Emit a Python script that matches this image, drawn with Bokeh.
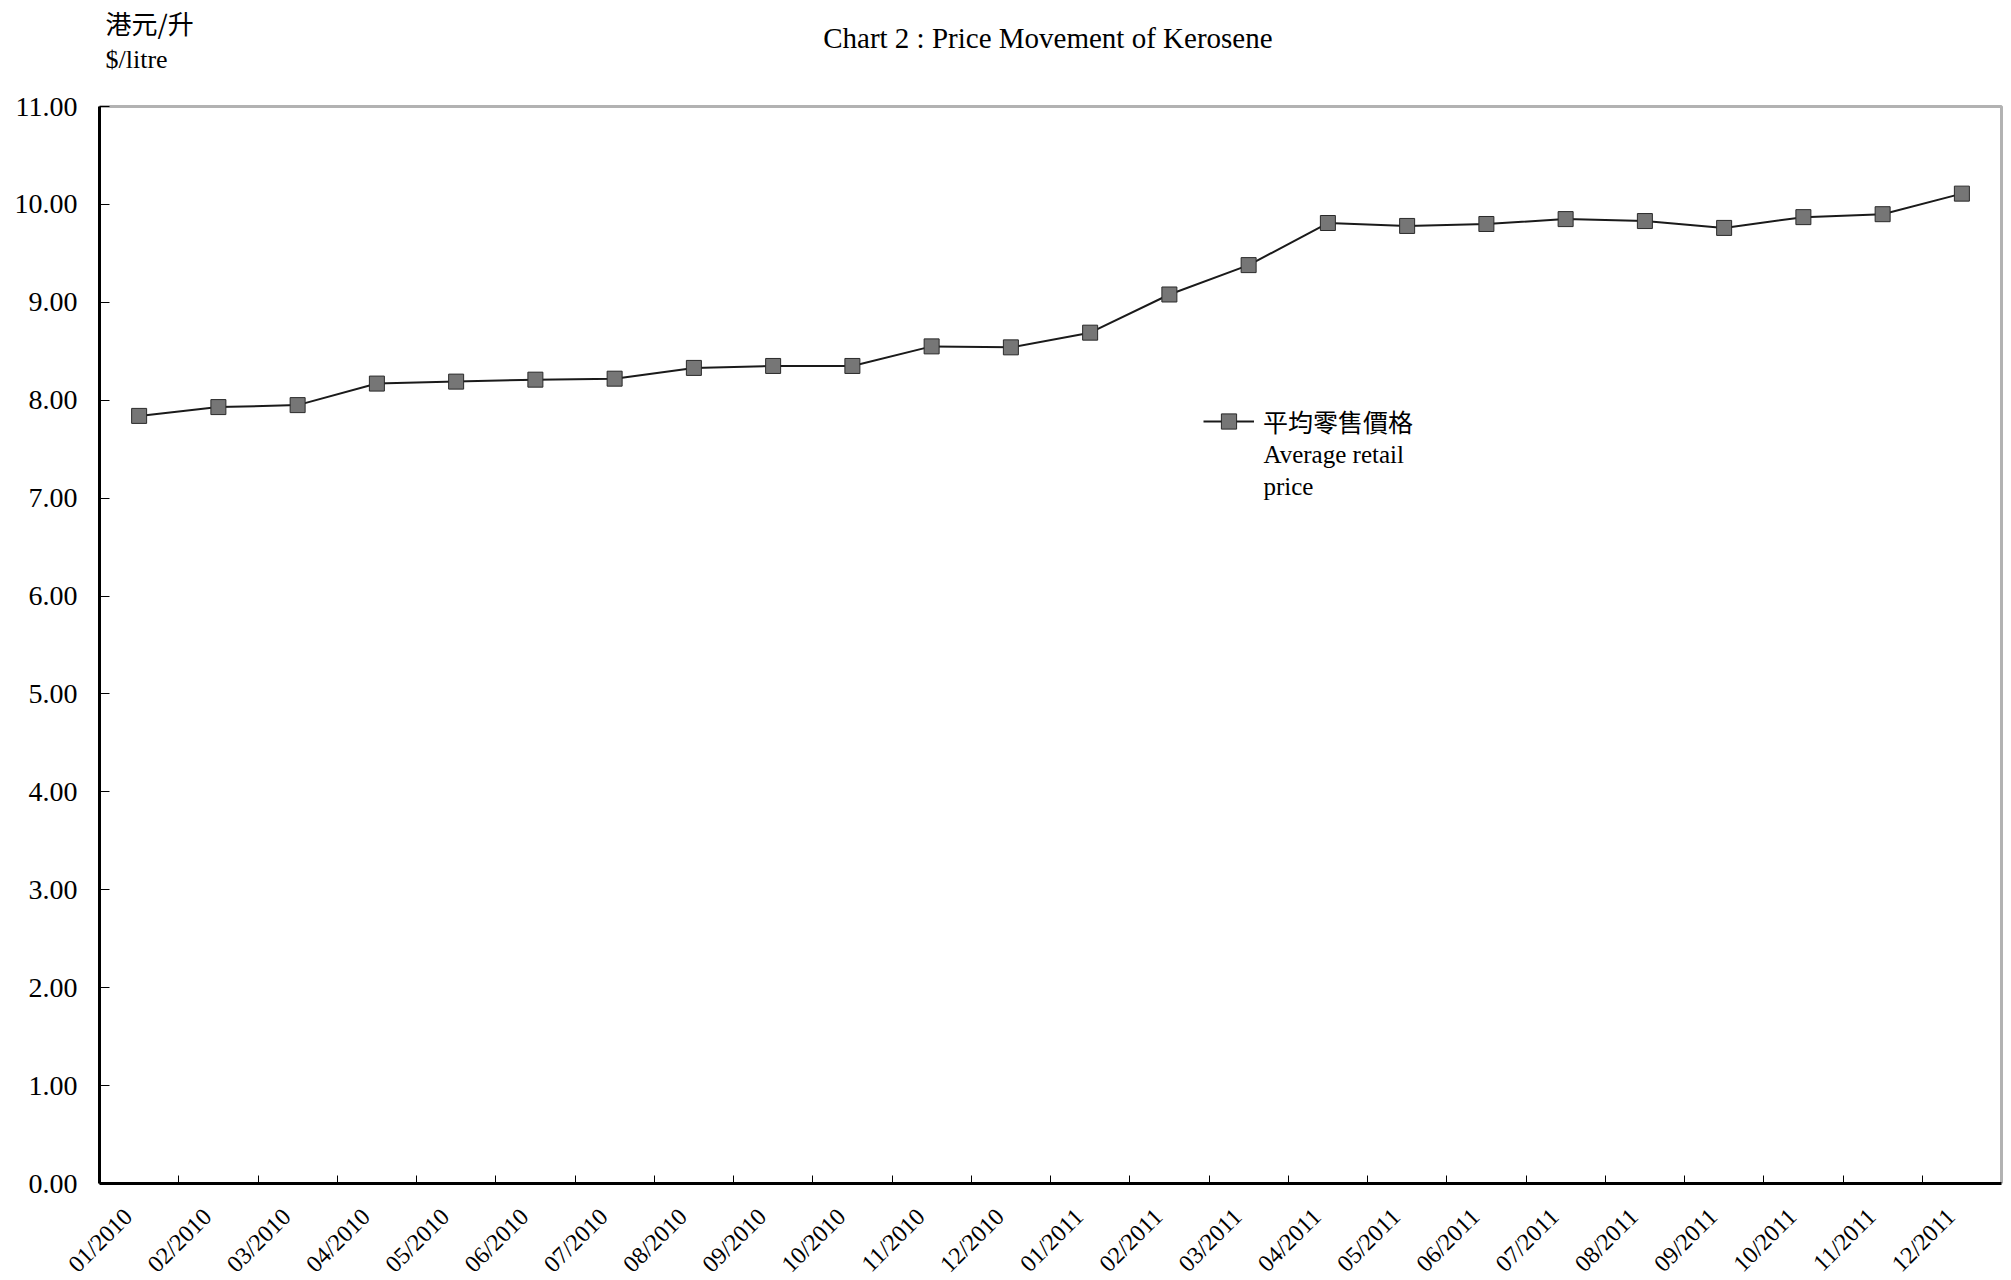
import math
from bokeh.plotting import figure
from bokeh.models import (Range1d, FixedTicker, PrintfTickFormatter, Label,
                          Legend, LegendItem, BoxAnnotation, CustomJSTickFormatter)
from bokeh.embed import file_html
from bokeh.resources import INLINE

months = ["01/2010", "02/2010", "03/2010", "04/2010", "05/2010", "06/2010",
          "07/2010", "08/2010", "09/2010", "10/2010", "11/2010", "12/2010",
          "01/2011", "02/2011", "03/2011", "04/2011", "05/2011", "06/2011",
          "07/2011", "08/2011", "09/2011", "10/2011", "11/2011", "12/2011"]
prices = [7.84, 7.93, 7.95, 8.17, 8.19, 8.21,
          8.22, 8.33, 8.35, 8.35, 8.55, 8.54,
          8.69, 9.08, 9.38, 9.81, 9.78, 9.80,
          9.85, 9.83, 9.76, 9.87, 9.90, 10.11]
y_ticks = [0, 1, 2, 3, 4, 5, 6, 7, 8, 9, 10, 11]

title_text = "Chart 2 :  Price Movement of Kerosene"
unit_zh = "港元/升"
unit_en = "$/litre"
legend_zh = "平均零售價格"
legend_en = ["Average retail", "price"]

SERIF = "Liberation Serif"
CJK = "Noto Sans CJK TC"

# layout (pixels)
PLOT_H = 1077          # height of the boxed plot area
TOP_SPACE = 106        # space above the boxed area for title / unit text
FRAME_W = 1904
PX_PER_UNIT = PLOT_H / (y_ticks[-1] - y_ticks[0])
Y_TOP = y_ticks[-1] + TOP_SPACE / PX_PER_UNIT

xs = list(range(len(months)))
n = len(months)
x_end_pad = 2 / ((FRAME_W - 2) / n)

p = figure(frame_width=FRAME_W, frame_height=PLOT_H + TOP_SPACE,
           output_backend="svg", toolbar_location=None,
           x_range=Range1d(-0.5, n - 0.5 + x_end_pad),
           y_range=Range1d(y_ticks[0], Y_TOP),
           min_border_left=99, min_border_right=1,
           min_border_top=0, min_border_bottom=0)
p.grid.visible = False
p.outline_line_color = None
p.background_fill_color = "white"
p.border_fill_color = "white"

# plot box
p.add_layout(BoxAnnotation(left=-0.5, right=n - 0.5, bottom=y_ticks[0], top=y_ticks[-1],
                           fill_alpha=0, line_color="black", line_width=3))

line_r = p.line(xs, prices, line_color="#1a1a1a", line_width=2)
sc_r = p.scatter(xs, prices, marker="square", size=15,
                 fill_color="#767676", line_color="#2a2a2a", line_width=1)

label_shift = 0.14
xa = p.xaxis[0]
xa.ticker = FixedTicker(ticks=[i - label_shift for i in xs],
                        minor_ticks=[i + 0.5 for i in xs[:-1]])
xa.formatter = CustomJSTickFormatter(args=dict(labels=months, shift=label_shift),
                                     code="const k = Math.round(tick + shift); return labels[k] || '';")
xa.bounds = (-0.5, n - 0.5)
xa.major_tick_in = 0
xa.major_tick_out = 0
xa.major_tick_line_color = None
xa.minor_tick_in = 8
xa.minor_tick_out = 0
xa.minor_tick_line_color = "black"
xa.minor_tick_line_width = 1
xa.major_label_orientation = math.pi / 4
xa.major_label_standoff = 29
xa.major_label_text_font = SERIF
xa.major_label_text_font_size = "24px"
xa.major_label_text_color = "black"
xa.axis_line_width = 3
xa.axis_line_color = "black"

ya = p.yaxis[0]
ya.ticker = FixedTicker(ticks=y_ticks)
ya.formatter = PrintfTickFormatter(format="%.2f")
ya.bounds = (y_ticks[0], y_ticks[-1])
ya.major_tick_in = 10
ya.major_tick_out = 0
ya.major_tick_line_color = "black"
ya.major_tick_line_width = 1
ya.minor_tick_line_color = None
ya.major_label_standoff = 22
ya.major_label_text_font = SERIF
ya.major_label_text_font_size = "28px"
ya.major_label_text_color = "black"
ya.axis_line_width = 3
ya.axis_line_color = "black"

legend = Legend(items=[LegendItem(label=legend_zh, renderers=[line_r, sc_r])],
                location=(1104, 743), glyph_width=51, glyph_height=38,
                label_standoff=9, padding=0, margin=0, spacing=0,
                border_line_color=None, background_fill_alpha=0,
                label_text_font=CJK, label_text_font_size="25px",
                label_text_color="black", label_text_baseline="middle")
p.add_layout(legend)

def lab(x, y, text, font, size, align="left"):
    p.add_layout(Label(x=x, y=y, x_units="screen", y_units="screen", text=text,
                       text_font=font, text_font_size=size, text_color="black",
                       text_align=align, text_baseline="middle"))

lab(952, 1146, title_text, SERIF, "29px", "center")
lab(6, 1161, unit_zh, CJK, "26px")
lab(6, 1124, unit_en, SERIF, "26px")
lab(1164, 729, legend_en[0], SERIF, "25px")
lab(1164, 697, legend_en[1], SERIF, "25px")

open("out.html", "w").write(file_html(p, INLINE))
